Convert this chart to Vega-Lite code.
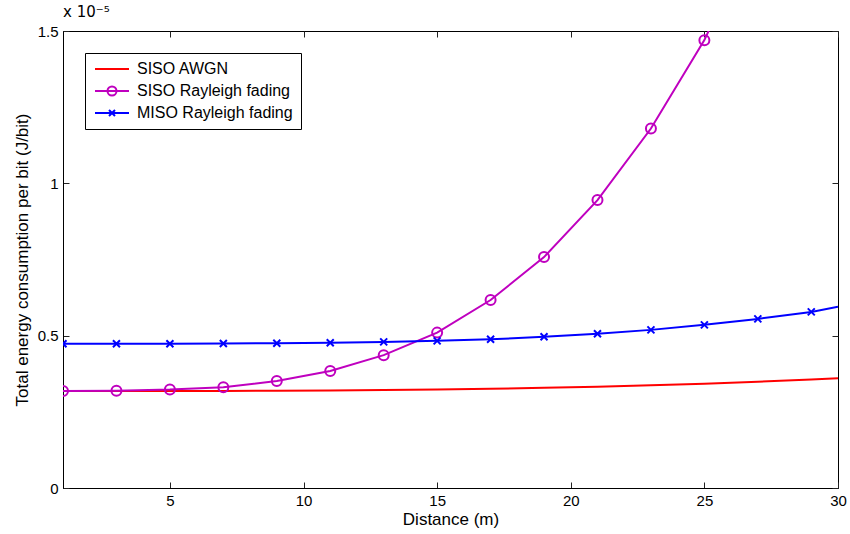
{
  "$schema": "https://vega.github.io/schema/vega-lite/v6.json",
  "width": 775,
  "height": 457,
  "autosize": {"type": "none"},
  "padding": {"left": 63, "top": 31, "right": 12, "bottom": 46},
  "background": "white",
  "config": {
    "font": "Liberation Sans",
    "view": {"stroke": "black", "strokeWidth": 1},
    "axis": {
      "grid": false,
      "domainColor": "black",
      "domainWidth": 1,
      "tickColor": "#222222",
      "tickWidth": 1,
      "tickSize": -6,
      "labelColor": "black",
      "labelFont": "Liberation Sans",
      "labelFontSize": 15,
      "labelFlush": false,
      "labelOverlap": false,
      "labelBound": false,
      "titleColor": "black",
      "titleFont": "Liberation Sans",
      "titleFontSize": 17,
      "titleFontWeight": "normal"
    }
  },
  "title": {
    "text": "x 10⁻⁵",
    "anchor": "start",
    "frame": "group",
    "offset": 4,
    "font": "DejaVu Sans",
    "fontSize": 15,
    "fontWeight": "normal",
    "color": "black"
  },
  "data": {
    "values": [
      {"series": "SISO AWGN", "d": 1, "e": 0.318},
      {"series": "SISO AWGN", "d": 3, "e": 0.318},
      {"series": "SISO AWGN", "d": 5, "e": 0.3182},
      {"series": "SISO AWGN", "d": 7, "e": 0.3185},
      {"series": "SISO AWGN", "d": 9, "e": 0.3191},
      {"series": "SISO AWGN", "d": 11, "e": 0.3201},
      {"series": "SISO AWGN", "d": 13, "e": 0.3214},
      {"series": "SISO AWGN", "d": 15, "e": 0.3233},
      {"series": "SISO AWGN", "d": 17, "e": 0.3256},
      {"series": "SISO AWGN", "d": 19, "e": 0.3287},
      {"series": "SISO AWGN", "d": 21, "e": 0.3324},
      {"series": "SISO AWGN", "d": 23, "e": 0.3369},
      {"series": "SISO AWGN", "d": 25, "e": 0.3423},
      {"series": "SISO AWGN", "d": 27, "e": 0.3486},
      {"series": "SISO AWGN", "d": 29, "e": 0.3559},
      {"series": "SISO AWGN", "d": 30, "e": 0.360},
      {"series": "SISO Rayleigh fading", "d": 1, "e": 0.318},
      {"series": "SISO Rayleigh fading", "d": 3, "e": 0.319},
      {"series": "SISO Rayleigh fading", "d": 5, "e": 0.323},
      {"series": "SISO Rayleigh fading", "d": 7, "e": 0.331},
      {"series": "SISO Rayleigh fading", "d": 9, "e": 0.351},
      {"series": "SISO Rayleigh fading", "d": 11, "e": 0.384},
      {"series": "SISO Rayleigh fading", "d": 13, "e": 0.436},
      {"series": "SISO Rayleigh fading", "d": 15, "e": 0.510},
      {"series": "SISO Rayleigh fading", "d": 17, "e": 0.617},
      {"series": "SISO Rayleigh fading", "d": 19, "e": 0.758},
      {"series": "SISO Rayleigh fading", "d": 21, "e": 0.945},
      {"series": "SISO Rayleigh fading", "d": 23, "e": 1.180},
      {"series": "SISO Rayleigh fading", "d": 25, "e": 1.470},
      {"series": "SISO Rayleigh fading", "d": 27, "e": 1.850},
      {"series": "MISO Rayleigh fading", "d": 1, "e": 0.4735},
      {"series": "MISO Rayleigh fading", "d": 3, "e": 0.4735},
      {"series": "MISO Rayleigh fading", "d": 5, "e": 0.4737},
      {"series": "MISO Rayleigh fading", "d": 7, "e": 0.4742},
      {"series": "MISO Rayleigh fading", "d": 9, "e": 0.4752},
      {"series": "MISO Rayleigh fading", "d": 11, "e": 0.4768},
      {"series": "MISO Rayleigh fading", "d": 13, "e": 0.4795},
      {"series": "MISO Rayleigh fading", "d": 15, "e": 0.4830},
      {"series": "MISO Rayleigh fading", "d": 17, "e": 0.4880},
      {"series": "MISO Rayleigh fading", "d": 19, "e": 0.4965},
      {"series": "MISO Rayleigh fading", "d": 21, "e": 0.5065},
      {"series": "MISO Rayleigh fading", "d": 23, "e": 0.5190},
      {"series": "MISO Rayleigh fading", "d": 25, "e": 0.5355},
      {"series": "MISO Rayleigh fading", "d": 27, "e": 0.5550},
      {"series": "MISO Rayleigh fading", "d": 29, "e": 0.5780},
      {"series": "MISO Rayleigh fading", "d": 30, "e": 0.5950}
    ]
  },
  "layer": [
    {
      "mark": {"type": "line", "strokeWidth": 2, "clip": true},
      "encoding": {
        "x": {
          "field": "d",
          "type": "quantitative",
          "scale": {"domain": [1, 30], "nice": false, "zero": false},
          "axis": {
            "orient": "bottom",
            "values": [5, 10, 15, 20, 25, 30],
            "labelPadding": 11,
            "title": "Distance (m)",
            "titlePadding": 3
          }
        },
        "y": {
          "field": "e",
          "type": "quantitative",
          "scale": {"domain": [0, 1.5], "nice": false, "zero": false},
          "axis": {
            "orient": "left",
            "values": [0, 0.5, 1, 1.5],
            "format": "~g",
            "labelPadding": 11,
            "title": "Total energy consumption per bit (J/bit)",
            "titlePadding": 6
          }
        },
        "color": {
          "field": "series",
          "type": "nominal",
          "scale": {
            "domain": ["SISO AWGN", "SISO Rayleigh fading", "MISO Rayleigh fading"],
            "range": ["#ff0000", "#bf00bf", "#0000ff"]
          },
          "legend": {
            "title": null,
            "orient": "top-left",
            "offset": 22,
            "padding": 8,
            "strokeColor": "black",
            "fillColor": "white",
            "labelFont": "Liberation Sans",
            "labelFontSize": 16,
            "labelColor": "black",
            "symbolSize": 100,
            "symbolOffset": 11,
            "labelOffset": 17,
            "rowPadding": 5,
            "symbolStrokeWidth": 2,
            "encode": {
              "symbols": {
                "update": {
                  "shape": {"signal": "datum.value === 'SISO AWGN' ? 'M-3.4,0L3.4,0' : datum.value === 'SISO Rayleigh fading' ? 'M-3.4,0L3.4,0M0.9,0A0.9,0.9,0,1,1,-0.9,0A0.9,0.9,0,1,1,0.9,0' : 'M-3.4,0L3.4,0M-0.6,-0.6L0.6,0.6M-0.6,0.6L0.6,-0.6'"},
                  "fill": {"value": "transparent"},
                  "strokeWidth": {"value": 2}
                }
              }
            }
          }
        }
      }
    },
    {
      "transform": [{"filter": "datum.series !== 'SISO AWGN' && datum.d % 2 === 1"}],
      "mark": {"type": "point", "filled": false, "strokeWidth": 2, "size": 100, "opacity": 1, "clip": true},
      "encoding": {
        "x": {
          "field": "d",
          "type": "quantitative",
          "axis": {"orient": "top", "values": [5, 10, 15, 20, 25, 30], "labels": false, "title": null, "domain": false}
        },
        "y": {
          "field": "e",
          "type": "quantitative",
          "axis": {"orient": "right", "values": [0, 0.5, 1, 1.5], "labels": false, "title": null, "domain": false}
        },
        "color": {"field": "series", "type": "nominal"},
        "shape": {
          "field": "series",
          "type": "nominal",
          "scale": {
            "domain": ["SISO Rayleigh fading", "MISO Rayleigh fading"],
            "range": ["circle", "M-0.7,-0.7L0.7,0.7M-0.7,0.7L0.7,-0.7"]
          },
          "legend": null
        }
      }
    }
  ],
  "resolve": {"axis": {"x": "independent", "y": "independent"}}
}
